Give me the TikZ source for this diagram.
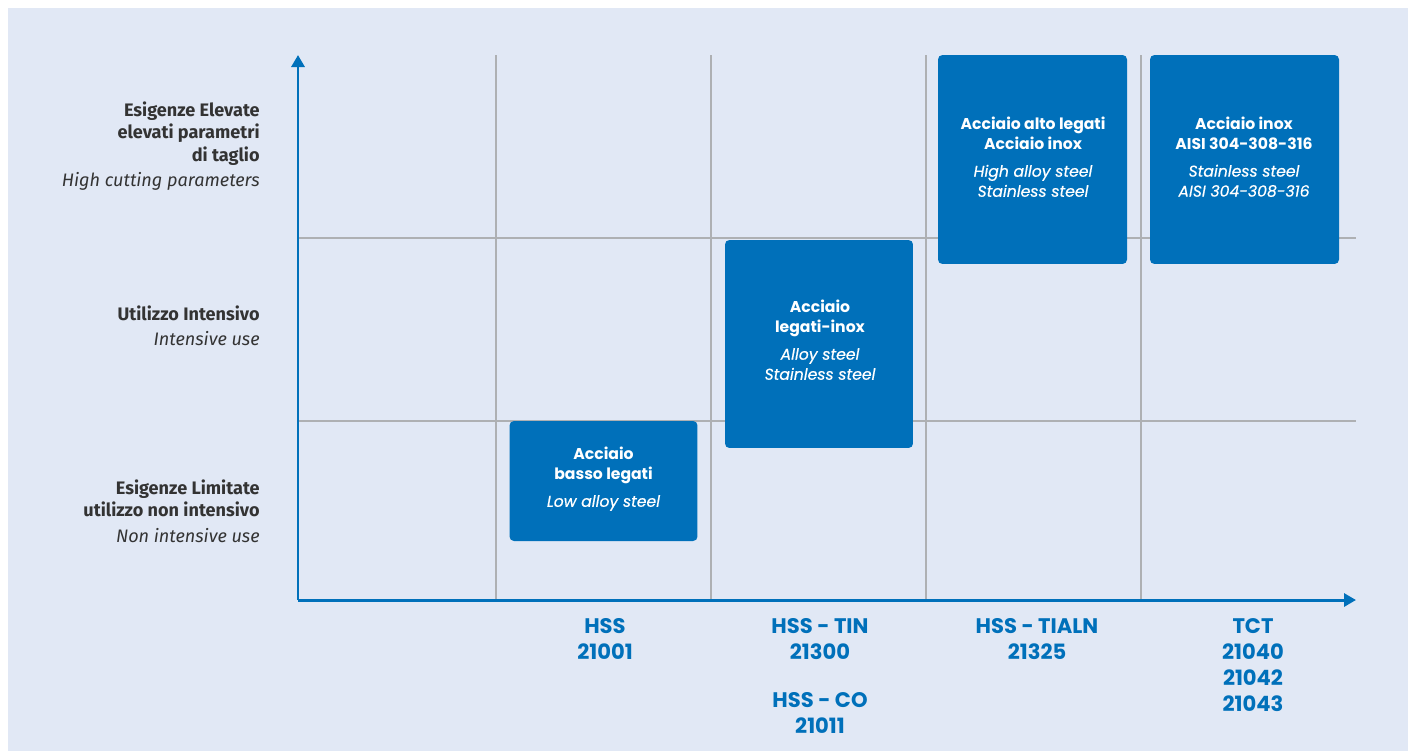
\documentclass[tikz,border=0pt]{standalone}
\usepackage{fontspec}
\setmainfont{Poppins}
\newfontfamily\boxit{Poppins}[FakeBold=0.5]
\newfontfamily\lblfont{Fira Sans}
\usetikzlibrary{arrows.meta}
\definecolor{bgblue}{HTML}{E1E8F5}
\definecolor{boxblue}{HTML}{0070BA}
\definecolor{gridgray}{HTML}{AEB0B3}
\definecolor{lbltext}{HTML}{333333}
\newcommand\bxi{\boxit\mdseries\itshape}
\tikzset{
  gridline/.style={draw=gridgray, line width=1.2pt},
  axisline/.style={draw=boxblue, line width=1.7pt, -{Triangle[length=0.24cm,width=0.26cm]}},
  matbox/.style={fill=boxblue, rounded corners=2.5pt, text=white, align=center, inner sep=0pt,
    font=\fontsize{8.9pt}{11.4pt}\selectfont\bfseries},
  sidelbl/.style={anchor=east, align=right, text=lbltext, inner sep=0pt,
    font=\lblfont\fontsize{10.3pt}{12.8pt}\selectfont},
  toollbl/.style={anchor=north, align=center, text=boxblue, inner sep=0pt,
    font=\fontsize{12pt}{14.8pt}\selectfont\bfseries}
}
\begin{document}
\begin{tikzpicture}[x=0.02cm,y=-0.02cm]
\useasboundingbox (0,0) rectangle (1408,751);
\fill[white] (0,0) rectangle (1408,751);
\fill[bgblue] (8,8) rectangle (1408,751);
% coordinates
\coordinate (O) at (298,600);
\coordinate (Ytip) at (298,55);
\coordinate (Xtip) at (1356,600);
\foreach \gx/\n in {496/a,711/b,926/c,1141/d}{
  \coordinate (vt\n) at (\gx,55);
  \coordinate (vb\n) at (\gx,600);
}
\foreach \gy/\n in {238/a,421/b}{
  \coordinate (hl\n) at (298,\gy);
  \coordinate (hr\n) at (1356,\gy);
}
% grid
\foreach \n in {a,b,c,d}{\draw[gridline] (vt\n) -- (vb\n);}
\foreach \n in {a,b}{\draw[gridline] (hl\n) -- (hr\n);}
% axes
\draw[axisline] (O) -- (Ytip);
\draw[axisline] (O) -- (Xtip);
% boxes
\node[matbox, minimum width=3.76cm, minimum height=2.4cm] (b1) at (603.5,481) {};
\node[matbox, anchor=center] (b1t) at (603.5,479)
  {Acciaio\\basso legati\\[4pt]\bxi Low alloy steel};
\node[matbox, minimum width=3.76cm, minimum height=4.16cm] (b2) at (819,344) {};
\node[matbox] (b2t) at (820,340)
  {Acciaio\\legati-inox\\[4pt]\bxi Alloy steel\\\bxi Stainless steel};
\node[matbox, minimum width=3.78cm, minimum height=4.18cm] (b3) at (1032.5,159.5) {};
\node[matbox] (b3t) at (1033,157)
  {Acciaio alto legati\\Acciaio inox\\[4pt]\bxi High alloy steel\\\bxi Stainless steel};
\node[matbox, minimum width=3.78cm, minimum height=4.18cm] (b4) at (1244.5,159.5) {};
\node[matbox] (b4t) at (1244,157)
  {Acciaio inox\\AISI 304-308-316\\[4pt]\bxi Stainless steel\\\bxi AISI 304-308-316};
% side labels
\node[sidelbl] (l1) at (260,146) {\bfseries Esigenze Elevate\\\bfseries elevati parametri\\\bfseries di taglio\\[1.5pt]\itshape High cutting parameters};
\node[sidelbl] (l2) at (260,326) {\bfseries Utilizzo Intensivo\\[1.5pt]\itshape Intensive use};
\node[sidelbl] (l3) at (260,511) {\bfseries Esigenze Limitate\\\bfseries utilizzo non intensivo\\[1.5pt]\itshape Non intensive use};
% tool labels
\node[toollbl] (t1) at (605,618) {HSS\\21001};
\node[toollbl] (t2) at (820,618) {HSS - TIN\\21300\\[12.5pt]HSS - CO\\21011};
\node[toollbl] (t3) at (1037,618) {HSS - TIALN\\21325};
\node[toollbl] (t4) at (1253,618) {TCT\\21040\\21042\\21043};
\end{tikzpicture}
\end{document}
